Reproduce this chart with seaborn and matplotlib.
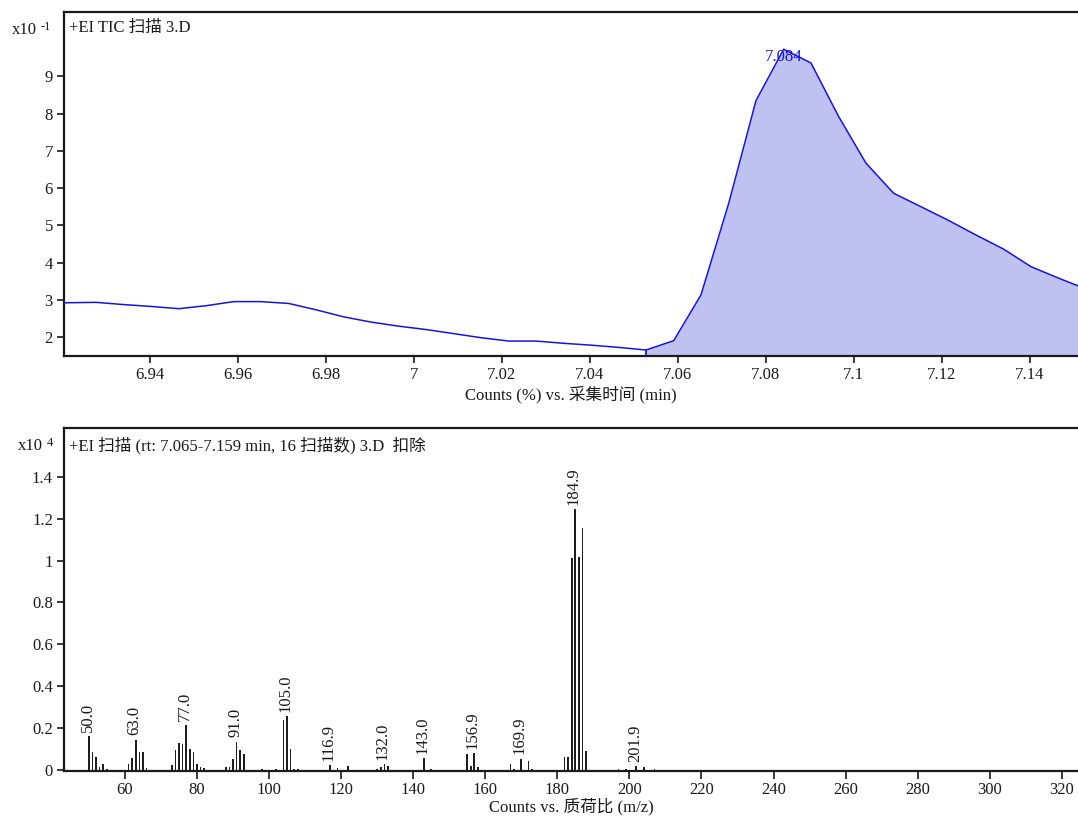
import numpy as np
import pandas as pd
import matplotlib
matplotlib.use("Agg")
import matplotlib.pyplot as plt
from matplotlib.ticker import FuncFormatter, MultipleLocator
import seaborn as sns

# ---------------- data ----------------
# TIC chromatogram (x10^-1)
tic_time = [6.9153, 6.9216, 6.9278, 6.9341, 6.9403, 6.9466, 6.9528, 6.9591, 6.9653,
            6.9716, 6.9778, 6.9841, 6.9903, 6.9966, 7.0028, 7.0091, 7.0153, 7.0216,
            7.0278, 7.0341, 7.0403, 7.0466, 7.0528, 7.0591, 7.0653, 7.0716, 7.0778,
            7.0841, 7.0903, 7.0966, 7.1028, 7.1091, 7.1153, 7.1216, 7.1278, 7.1341,
            7.1403, 7.1466, 7.1528]
tic_counts = [2.91, 2.92, 2.93, 2.87, 2.82, 2.76, 2.84, 2.95, 2.95,
              2.90, 2.73, 2.54, 2.40, 2.29, 2.20, 2.09, 1.98, 1.89,
              1.89, 1.83, 1.78, 1.72, 1.65, 1.90, 3.13, 5.59, 8.35,
              9.73, 9.36, 7.92, 6.67, 5.86, 5.50, 5.13, 4.74, 4.36,
              3.89, 3.58, 3.29]
peak_start = 7.0528
peak_label = "7.084"
peak_time = 7.084

# Mass spectrum (x10^4)
ms_mz = [50.0, 51, 52, 53, 54, 55,
         61, 62, 63.0, 64, 65, 66,
         73, 74, 75, 76, 77.0, 78, 79, 80, 81, 82,
         86, 88, 89, 90, 91.0, 92, 93,
         98, 102, 104, 105.0, 106, 107, 108,
         116.9, 119, 122,
         130, 131, 132.0, 133,
         143.0, 145,
         155, 156, 156.9, 158,
         167, 168, 169.9, 172, 173,
         182, 183, 184, 184.9, 186, 187, 188,
         197, 199, 201.9, 204, 207]
ms_abund = [0.165, 0.087, 0.062, 0.015, 0.029, 0.008,
            0.030, 0.059, 0.146, 0.087, 0.085, 0.010,
            0.026, 0.097, 0.132, 0.127, 0.214, 0.103, 0.085, 0.030, 0.016, 0.012,
            0.003, 0.014, 0.014, 0.056, 0.137, 0.095, 0.076,
            0.005, 0.005, 0.240, 0.260, 0.103, 0.007, 0.004,
            0.026, 0.012, 0.021,
            0.005, 0.018, 0.030, 0.020,
            0.057, 0.008,
            0.080, 0.020, 0.083, 0.015,
            0.030, 0.007, 0.056, 0.045, 0.004,
            0.062, 0.062, 1.010, 1.245, 1.015, 1.155, 0.092,
            0.006, 0.005, 0.020, 0.015, 0.004]
ms_labels = ["50.0", "63.0", "77.0", "91.0", "105.0", "116.9", "132.0",
             "143.0", "156.9", "169.9", "184.9", "201.9"]

top_title = "+EI TIC 扫描 3.D"
bottom_title = "+EI 扫描 (rt: 7.065-7.159 min, 16 扫描数) 3.D  扣除"
top_xlabel = "Counts (%) vs. 采集时间 (min)"
bottom_xlabel = "Counts vs. 质荷比 (m/z)"

# ---------------- style ----------------
sns.set_style("ticks")
plt.rcParams['font.family'] = ['Liberation Serif', 'Noto Sans CJK SC', 'DejaVu Sans']
FS = 12
INK = '#1a1a1a'
LINE_BLUE = '#1414e6'
FILL_BLUE = '#bfc1f0'

W, H = 1078, 817
fig = plt.figure(figsize=(W / 100, H / 100), dpi=100)
fig.patch.set_facecolor('white')

def box(l, t, r, b):
    return [l / W, 1 - b / H, (r - l) / W, (b - t) / H]

ax1 = fig.add_axes(box(64, 12, 1078, 355.7))
ax2 = fig.add_axes(box(64, 428, 1078, 770.7))

def style_axes(ax):
    ax.set_facecolor('white')
    for s in ['left', 'bottom', 'top']:
        ax.spines[s].set_visible(True)
        ax.spines[s].set_color(INK)
        ax.spines[s].set_linewidth(1.6)
    ax.spines['right'].set_visible(False)
    ax.tick_params(axis='both', direction='out', length=5, width=1.2, colors=INK,
                   labelsize=FS, pad=3)
    ax.grid(False)

# ---------------- top: TIC ----------------
tic_df = pd.DataFrame({'time': tic_time, 'counts': tic_counts})
ymin1, ymax1 = 1.497, 10.73
pk = tic_df[tic_df['time'] >= peak_start]
ax1.fill_between(pk['time'], ymin1, pk['counts'], color=FILL_BLUE, linewidth=0, zorder=1)
ax1.plot([peak_start, peak_start], [ymin1, pk['counts'].iloc[0]], color=LINE_BLUE, lw=1.3, zorder=3)
sns.lineplot(data=tic_df, x='time', y='counts', ax=ax1, color=LINE_BLUE, linewidth=1.1,
             zorder=3, estimator=None, sort=False)
ax1.set_xlim(6.9205, 7.151)
ax1.set_ylim(ymin1, ymax1)
ax1.xaxis.set_major_locator(MultipleLocator(0.02))
ax1.xaxis.set_major_formatter(FuncFormatter(lambda v, p: f"{v:.2f}".rstrip('0').rstrip('.')))
ax1.yaxis.set_major_formatter(FuncFormatter(lambda v, p: f"{v:g}"))
ax1.set_yticks([2, 3, 4, 5, 6, 7, 8, 9])
style_axes(ax1)
ax1.set_xlabel(top_xlabel, fontsize=FS, color=INK, labelpad=2)
ax1.set_ylabel('')
ax1.text(peak_time, 9.53, peak_label, color=LINE_BLUE, fontsize=FS, ha='center', va='center', zorder=4)
ax1.text(5 / 1014, 0.953, top_title, transform=ax1.transAxes, fontsize=FS, color=INK,
         ha='left', va='center')

# ---------------- bottom: spectrum ----------------
ms_df = pd.DataFrame({'mz': ms_mz, 'abund': ms_abund})
min_gap = np.min(np.diff(np.sort(np.unique(ms_df['mz']))))
sns.barplot(data=ms_df, x='mz', y='abund', ax=ax2, native_scale=True, orient='x',
            width=0.45 / min_gap, color='#1e1e1e', saturation=1, linewidth=0,
            errorbar=None)
ax2.set_xlim(43.1, 324.5)
ax2.set_ylim(-0.002, 1.632)
ax2.xaxis.set_major_locator(MultipleLocator(20))
ax2.set_yticks([0, 0.2, 0.4, 0.6, 0.8, 1.0, 1.2, 1.4])
ax2.xaxis.set_major_formatter(FuncFormatter(lambda v, p: f"{v:g}"))
ax2.yaxis.set_major_formatter(FuncFormatter(lambda v, p: f"{v:g}"))
style_axes(ax2)
ax2.tick_params(axis='x', length=6, pad=2)
ax2.set_xlabel(bottom_xlabel, fontsize=FS, color=INK, labelpad=0)
ax2.set_ylabel('')
for lab in ms_labels:
    m = float(lab)
    i = int(np.argmin(np.abs(np.array(ms_mz) - m)))
    ax2.annotate(lab, (ms_mz[i], ms_abund[i]), xytext=(-1, 3), textcoords='offset points',
                 rotation=90, ha='center', va='bottom', fontsize=FS, color=INK)
ax2.text(5 / 1014, 0.950, bottom_title, transform=ax2.transAxes, fontsize=FS, color=INK,
         ha='left', va='center')

# ---------------- exponent labels ----------------
fig.text(12 / W, 1 - 33.5 / H, 'x10', fontsize=FS, color=INK, ha='left', va='baseline')
fig.text(41 / W, 1 - 30 / H, '-1', fontsize=9, color=INK, ha='left', va='baseline')
fig.text(18 / W, 1 - 450.5 / H, 'x10', fontsize=FS, color=INK, ha='left', va='baseline')
fig.text(47 / W, 1 - 446.5 / H, '4', fontsize=9, color=INK, ha='left', va='baseline')

fig.savefig('out.png', dpi=100, facecolor='white')
